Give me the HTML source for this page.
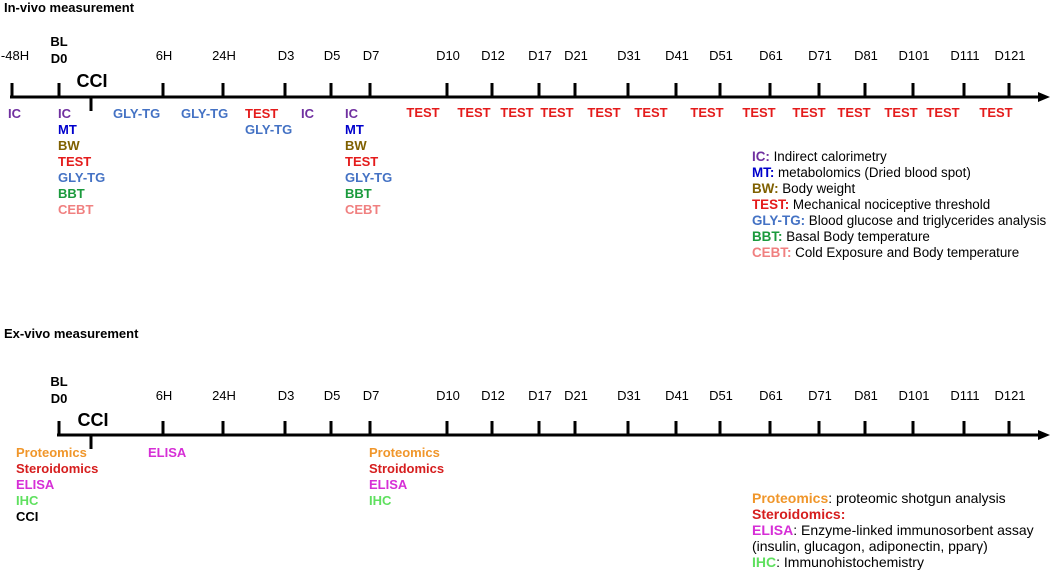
<!DOCTYPE html>
<html><head><meta charset="utf-8"><style>
html,body{margin:0;padding:0;background:#fff;}
svg{display:block;font-family:"Liberation Sans",Arial,sans-serif;}
.b{font-weight:bold;}
</style></head><body>
<svg id="chart" width="1052" height="572" viewBox="0 0 1052 572">
<text x="4" y="12" font-size="13" class="b">In-vivo measurement</text>
<text x="4" y="338" font-size="13" class="b">Ex-vivo measurement</text>
<g id="topg"></g>
<g id="botg"></g>
</svg>
<script>
const tickLabels = ["-48H","BL|D0","6H","24H","D3","D5","D7","D10","D12","D17","D21","D31","D41","D51","D61","D71","D81","D101","D111","D121"];
const tickPos = [12,59,163,223,285,331,370,447,492,539,575,628,676,720,770,819,865,913,964,1009];
const testCenters = [423,474,517,557,604,651,707,759,809,854,901,943,996];
const C={IC:"#7030a0",MT:"#0000cc",BW:"#7f6000",TEST:"#e41b1b",GLY:"#4472c4",BBT:"#1a9a3c",CEBT:"#f08080",PRO:"#f0962a",STE:"#d61e1e",ELISA:"#d62ed6",IHC:"#5fe05f",K:"#000"};
const NS="http://www.w3.org/2000/svg";
function el(p,tag,a,txt){const e=document.createElementNS(NS,tag);for(const k in a)e.setAttribute(k,a[k]);if(txt!==undefined)e.textContent=txt;p.appendChild(e);return e;}
function axis(g,y,labY,withNeg,prefix){
  const line=el(g,"line",{x1:withNeg?10:57,y1:y,x2:1040,y2:y,stroke:"#000","stroke-width":3});
  
  
  const ar=el(g,"polygon",{points:`1038,${y-5} 1050,${y} 1038,${y+5}`,fill:"#000"});
  
  
  tickLabels.forEach((l,i)=>{
    if(!withNeg&&i===0)return;
    const x=tickPos[i];
    const t=el(g,"line",{x1:x,y1:y-14,x2:x,y2:y,stroke:"#000","stroke-width":3});
    
    
    let tx;
    if(l.includes("|")){
      const [a,b]=l.split("|");
      tx=el(g,"text",{x:x,y:labY-9,"font-size":13,"font-weight":"bold","text-anchor":"middle"},a);
      const t2=el(g,"text",{x:x,y:labY+8,"font-size":13,"font-weight":"bold","text-anchor":"middle"},b);
      
      
    } else {
      tx=el(g,"text",{x:i===0?15:x+1,y:labY+5,"font-size":13,"text-anchor":"middle"},l);
    }
    
    
  });
  const ct=el(g,"line",{x1:91,y1:y,x2:91,y2:y+14,stroke:"#000","stroke-width":3});
  
  
}
function col(g,x,y0,items,anchor){
  items.forEach((it,i)=>{
    const t=el(g,"text",{x:x,y:y0+i*16+5,"font-size":13,"font-weight":"bold",fill:C[it[1]],"text-anchor":anchor||"start"},it[0]);
    
    
  });
}
function legend(g,x,y0,items,fs){
  items.forEach((it,i)=>{
    const t=el(g,"text",{x:x,y:y0+i*16+5,"font-size":fs});
    
    
    if(it[0]){el(t,"tspan",{fill:C[it[1]],"font-weight":"bold"},it[0]);}
    el(t,"tspan",{fill:"#000"},it[2]);
  });
}
const gTop=document.getElementById("topg"), gBot=document.getElementById("botg");
axis(gTop,97,55,true,"in-vivo");
let cc=el(gTop,"text",{x:92,y:87,"font-size":18,"font-weight":"bold","text-anchor":"middle"},"CCI");


col(gTop,8,113,[["IC","IC"]]);
const full=[["IC","IC"],["MT","MT"],["BW","BW"],["TEST","TEST"],["GLY-TG","GLY"],["BBT","BBT"],["CEBT","CEBT"]];
col(gTop,58,113,full);
col(gTop,113,113,[["GLY-TG","GLY"]]);
col(gTop,181,113,[["GLY-TG","GLY"]]);
col(gTop,245,113,[["TEST","TEST"],["GLY-TG","GLY"]]);
col(gTop,301,113,[["IC","IC"]]);
col(gTop,345,113,full);
testCenters.forEach(x=>col(gTop,x,112,[["TEST","TEST"]],"middle"));
legend(gTop,752,156,[["IC:","IC"," Indirect calorimetry"],["MT:","MT"," metabolomics (Dried blood spot)"],["BW:","BW"," Body weight"],["TEST:","TEST"," Mechanical nociceptive threshold"],["GLY-TG:","GLY"," Blood glucose and triglycerides analysis"],["BBT:","BBT"," Basal Body temperature"],["CEBT:","CEBT"," Cold Exposure and Body temperature"]],13.4);

axis(gBot,435,395,false,"ex-vivo");
cc=el(gBot,"text",{x:93,y:426,"font-size":18,"font-weight":"bold","text-anchor":"middle"},"CCI");


col(gBot,16,452,[["Proteomics","PRO"],["Steroidomics","STE"],["ELISA","ELISA"],["IHC","IHC"],["CCI","K"]]);
col(gBot,148,452,[["ELISA","ELISA"]]);
col(gBot,369,452,[["Proteomics","PRO"],["Stroidomics","STE"],["ELISA","ELISA"],["IHC","IHC"]]);
legend(gBot,752,498,[["Proteomics","PRO",": proteomic shotgun analysis"],["Steroidomics:","STE",""],["ELISA","ELISA",": Enzyme-linked immunosorbent assay"],["","K","(insulin, glucagon, adiponectin, ppar\u03B3)"],["IHC","IHC",": Immunohistochemistry"]],14);
</script>
</body></html>
